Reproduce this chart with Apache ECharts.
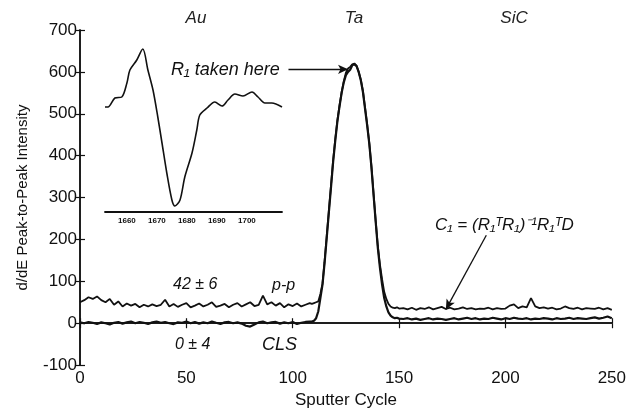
<!DOCTYPE html>
<html><head><meta charset="utf-8">
<script src="https://cdn.jsdelivr.net/npm/echarts@6/dist/echarts.min.js"></script>
<style>html,body{margin:0;padding:0;background:#fff}#c{width:629px;height:414px}</style>
</head><body><div id="c"></div>
<script>
// Main chart data: sputter cycle vs d/dE peak-to-peak intensity
var cycles = [0,2,4,6,8,10,12,14,16,18,20,22,24,26,28,30,32,34,36,38,40,42,44,46,48,50,52,54,56,58,60,62,64,66,68,70,72,74,76,78,80,82,84,86,88,90,92,94,96,98,100,102,104,106,108,
109,110,111,112,113,114,115,116,117,118,119,120,121,122,123,124,125,126,127,128,129,130,131,132,133,134,135,136,137,138,139,140,141,142,143,144,145,146,147,148,149,150,
152,154,156,158,160,162,164,166,168,170,172,174,176,178,180,182,184,186,188,190,192,194,196,198,200,202,204,206,208,210,212,214,216,218,220,222,224,226,228,230,232,234,236,238,240,242,244,246,248,250];
var ppValues = [50,55,62,58,64,55,50,58,44,52,40,47,42,46,38,44,40,45,41,44,56,40,46,39,44,48,38,42,47,40,44,50,39,42,46,38,44,48,40,45,50,41,44,66,45,50,42,48,38,45,41,47,40,44,48,
46,48,50,52,70,95,150,210,270,330,390,440,485,520,552,578,598,608,612,618,620,615,600,582,555,515,475,430,375,310,245,185,140,105,75,58,46,40,37,36,38,35,
36,33,37,32,36,34,38,33,36,39,34,37,33,35,38,34,36,33,35,34,37,33,36,34,35,42,45,36,40,38,60,40,36,38,35,37,33,35,40,36,34,37,33,36,35,34,37,33,36,32];
var clsValues = [2,0,3,1,-2,2,0,-3,1,3,-1,2,4,0,3,1,-2,2,4,1,3,0,-2,2,1,4,0,3,-1,2,0,4,1,-2,2,3,0,2,-1,-6,-8,-3,2,4,0,2,3,-1,2,0,3,-2,1,3,4,
4,6,12,28,60,92,145,205,265,325,385,436,482,518,550,575,592,600,605,616,618,614,600,580,552,512,472,428,372,306,242,180,132,92,60,40,26,18,14,12,13,11,
10,12,9,11,8,10,12,9,11,10,8,10,12,9,11,13,10,12,9,11,10,13,11,9,12,10,13,11,10,12,9,11,10,12,11,9,12,10,11,13,10,12,11,10,12,14,11,13,16,12];
// Inset: Au spectrum
var insetEnergy = [1652.7,1653.7,1656,1658.3,1660,1661,1663.3,1665.3,1667,1668.7,1670.3,1671.7,1673.3,1675,1676,1677.7,1679.3,1681.7,1683.3,1684.3,1686.7,1689.3,1691.7,1693.7,1696,1698.7,1701.7,1703.7,1706,1708.3,1711.7];
var insetValues = [105,105,114,115,129,142,152,163,142,122,95,69,39,12,6,12,35,59,82,97,104,110,106,112,118,116,120,115,109,109,105];
var insetTicks = [1660,1670,1680,1690,1700];
var yTicks = [-100,700,100];
var xTicks = [0,250,50];

var FONT = 'Liberation Sans, Arial, sans-serif';
function pairs(xs, ys){ return xs.map(function(x,i){return [x, ys[i]];}); }

var chart = echarts.init(document.getElementById('c'), null, {renderer:'canvas'});
var axisLine = {show:true, lineStyle:{color:'#111', width:1.5}};
var tickIn = {show:true, inside:true, length:5, lineStyle:{color:'#111', width:1.2}};
chart.setOption({
  animation:false,
  backgroundColor:'#fff',
  grid:[
    {left:80, right:12, top:30, bottom:45},
    {left:105, top:30, width:177, height:182}
  ],
  xAxis:[
    {type:'value', gridIndex:0, min:xTicks[0], max:xTicks[1], interval:xTicks[2],
     axisLine:axisLine, axisTick:tickIn, splitLine:{show:false},
     axisLabel:{color:'#111', fontSize:17, fontFamily:FONT, margin:5},
     name:'Sputter Cycle', nameLocation:'middle', nameGap:26,
     nameTextStyle:{color:'#111', fontSize:17, fontFamily:FONT}},
    {type:'value', gridIndex:0, position:'top', min:xTicks[0], max:xTicks[1], interval:xTicks[2],
     axisLine:axisLine, axisTick:tickIn, axisLabel:{show:false}, splitLine:{show:false}},
    {type:'value', gridIndex:1, min:1652.7, max:1711.7,
     axisLine:{show:true, lineStyle:{color:'#111', width:1.8}},
     axisTick:{show:false}, splitLine:{show:false},
     axisLabel:{color:'#111', fontSize:8, fontWeight:'bold', fontFamily:FONT, margin:5, customValues:insetTicks,
       formatter:function(v){return String(v);}}}
  ],
  yAxis:[
    {type:'value', gridIndex:0, min:yTicks[0], max:yTicks[1], interval:yTicks[2],
     axisLine:axisLine, axisTick:tickIn, splitLine:{show:false},
     axisLabel:{color:'#111', fontSize:17, fontFamily:FONT, margin:3},
     name:'d/dE Peak-to-Peak Intensity', nameLocation:'middle', nameGap:50,
     nameTextStyle:{color:'#111', fontSize:15, fontFamily:FONT}},
    {type:'value', gridIndex:0, position:'right', min:yTicks[0], max:yTicks[1], interval:yTicks[2],
     axisLine:axisLine, axisTick:tickIn, axisLabel:{show:false}, splitLine:{show:false}},
    {type:'value', gridIndex:1, min:0, max:182, show:false}
  ],
  series:[
    {type:'line', xAxisIndex:0, yAxisIndex:0, data:pairs(cycles, ppValues), symbol:'none',
     lineStyle:{color:'#111', width:1.8},
     markLine:{silent:true, symbol:['none','arrow'], symbolSize:[7,10], label:{show:false},
       lineStyle:{color:'#111', width:1.3, type:'solid'},
       data:[
         [{coord:[98,606]},{coord:[126,606]}],
         [{coord:[191,210]},{coord:[172,33]}]
       ]}},
    {type:'line', xAxisIndex:0, yAxisIndex:0, data:pairs(cycles, clsValues), symbol:'none',
     lineStyle:{color:'#111', width:2.2}},
    {type:'line', xAxisIndex:2, yAxisIndex:2, data:pairs(insetEnergy, insetValues), symbol:'none',
     smooth:0.3, lineStyle:{color:'#111', width:1.6}}
  ],
  graphic:[
    {type:'text', x:196, y:18, style:{text:'Au', font:'italic 17px '+FONT, fill:'#222', align:'center', verticalAlign:'middle'}},
    {type:'text', x:354, y:18, style:{text:'Ta', font:'italic 17px '+FONT, fill:'#222', align:'center', verticalAlign:'middle'}},
    {type:'text', x:514, y:18, style:{text:'SiC', font:'italic 17px '+FONT, fill:'#222', align:'center', verticalAlign:'middle'}},
    {type:'text', x:171, y:70, style:{text:'R\u2081 taken here', font:'italic 18px '+FONT, fill:'#111', align:'left', verticalAlign:'middle'}},
    {type:'text', x:435, y:225, style:{text:'C\u2081 = (R\u2081\u1D40R\u2081)\u207B\u00B9R\u2081\u1D40D', font:'italic 17px '+FONT, fill:'#111', align:'left', verticalAlign:'middle'}},
    {type:'text', x:173, y:285, style:{text:'42 \u00B1 6', font:'italic 16px '+FONT, fill:'#111', align:'left', verticalAlign:'middle'}},
    {type:'text', x:272, y:286, style:{text:'p-p', font:'italic 16px '+FONT, fill:'#111', align:'left', verticalAlign:'middle'}},
    {type:'text', x:175, y:345, style:{text:'0 \u00B1 4', font:'italic 16px '+FONT, fill:'#111', align:'left', verticalAlign:'middle'}},
    {type:'text', x:262, y:345, style:{text:'CLS', font:'italic 18px '+FONT, fill:'#111', align:'left', verticalAlign:'middle'}}
  ]
});
</script></body></html>
